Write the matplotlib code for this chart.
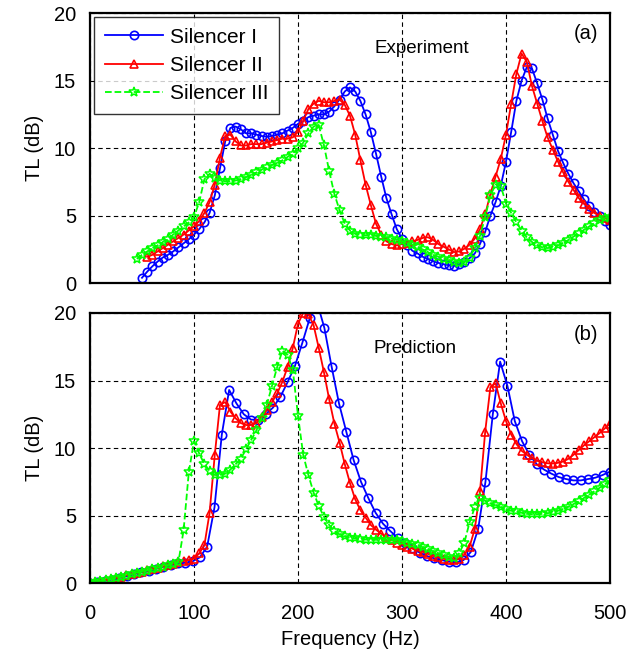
import numpy as np
import matplotlib
matplotlib.use("Agg")
import matplotlib.pyplot as plt

plt.rcParams['font.family'] = ['Liberation Sans', 'DejaVu Sans']

# ---- (a) Experiment, 5 Hz steps ----
f_exp_1 = np.arange(50, 501, 5)
tl_exp_1 = [0.4, 0.85, 1.25, 1.6, 1.9, 2.1, 2.35, 2.65, 2.95, 3.25,
            3.6, 4.0, 4.5, 5.2, 6.5, 8.5, 10.5, 11.5, 11.6, 11.4,
            11.1, 11.1, 11.0, 10.9, 10.85, 10.9, 11.0, 11.1, 11.3, 11.5,
            11.8, 12.0, 12.3, 12.4, 12.5, 12.5, 12.7, 13.1, 13.6, 14.2,
            14.5, 14.2, 13.5, 12.5, 11.2, 9.6, 7.9, 6.3, 5.1, 4.0,
            3.3, 2.8, 2.4, 2.2, 1.95, 1.8, 1.63, 1.5, 1.4, 1.33,
            1.28, 1.4, 1.6, 1.85, 2.2, 2.9, 3.8, 5.0, 6.0, 7.2,
            9.0, 11.2, 13.5, 15.0, 16.0, 15.9, 14.8, 13.6, 12.2, 11.0,
            9.8, 8.9, 8.1, 7.4, 6.8, 6.2, 5.7, 5.3, 5.0, 4.6,
            4.3]

f_exp_2 = np.arange(55, 501, 5)
tl_exp_2 = [1.95, 2.1, 2.35, 2.6, 2.85, 3.1, 3.35, 3.6, 3.9, 4.2,
            4.6, 5.2, 6.0, 7.3, 9.3, 10.9, 11.0, 10.5, 10.2, 10.2,
            10.3, 10.3, 10.3, 10.4, 10.5, 10.6, 10.7, 10.7, 10.8, 11.2,
            12.0, 12.9, 13.3, 13.5, 13.4, 13.4, 13.5, 13.6, 13.2, 12.4,
            11.0, 9.1, 7.3, 5.8, 4.4, 3.6, 3.1, 2.9, 2.8, 2.9,
            3.0, 3.1, 3.2, 3.35, 3.4, 3.2, 2.9, 2.7, 2.5, 2.3,
            2.35, 2.55, 2.85, 3.3, 4.0, 5.1, 6.6, 7.9, 9.2, 11.0,
            13.3, 15.5, 17.0, 16.4, 14.6, 13.3, 12.0, 10.8, 9.9, 9.0,
            8.2, 7.5, 6.9, 6.3, 5.9, 5.5, 5.2, 5.0, 4.8, 4.7]

f_exp_3 = np.arange(45, 501, 5)
tl_exp_3 = [1.8, 2.1, 2.35, 2.6, 2.8, 3.05, 3.3, 3.6, 3.9, 4.2,
            4.5, 4.9, 6.0, 7.7, 8.1, 7.8, 7.6, 7.55, 7.55, 7.6,
            7.7, 7.85, 8.0, 8.2, 8.4, 8.6, 8.75, 8.9, 9.1, 9.35,
            9.6, 10.0, 10.4, 11.1, 11.6, 11.7, 10.2, 8.3, 6.6, 5.4,
            4.4, 3.9, 3.65, 3.6, 3.55, 3.55, 3.5, 3.45, 3.4, 3.3,
            3.2, 3.1, 3.0, 2.85, 2.65, 2.5, 2.3, 2.1, 1.95, 1.8,
            1.7, 1.6, 1.5, 1.55, 1.9, 2.6, 3.5, 4.9, 6.5, 7.3,
            7.2, 5.9, 5.2, 4.5, 3.9, 3.4, 3.05, 2.8, 2.65, 2.6,
            2.65, 2.8, 2.95, 3.2, 3.45, 3.7, 3.95, 4.2, 4.45, 4.7,
            4.85, 4.9]

# ---- (b) Prediction ----
f_pre_1 = np.linspace(0, 500, 72)
tl_pre_1 = [0.0, 0.1, 0.15, 0.25, 0.37, 0.5, 0.65, 0.78, 0.9, 1.05,
            1.2, 1.3, 1.45, 1.5, 1.6, 1.9, 2.7, 5.6, 11.0, 14.3,
            13.3, 12.5, 12.1, 12.1, 12.5, 13.0, 13.8, 14.9, 16.1, 17.8,
            19.6, 20.8, 18.9, 16.0, 13.3, 11.2, 9.1, 7.5, 6.3, 5.2,
            4.4, 3.85, 3.35, 2.95, 2.6, 2.25, 2.0, 1.83, 1.7, 1.58,
            1.53, 1.7, 2.3, 4.0, 7.5, 12.5, 16.4, 14.6, 12.0, 10.5,
            9.5, 8.8, 8.4, 8.1, 7.85, 7.7, 7.6, 7.6, 7.7, 7.8,
            8.0, 8.25]

f_pre = np.arange(0, 501, 5)
tl_pre_2 = [0.05, 0.1, 0.15, 0.22, 0.3, 0.38, 0.47, 0.57, 0.67, 0.77,
            0.85, 0.93, 1.03, 1.13, 1.23, 1.33, 1.43, 1.55, 1.62, 1.7,
            1.8, 2.2, 2.8, 5.2, 9.5, 13.2, 13.4, 12.7, 12.2, 11.85,
            11.7, 11.7, 11.85, 12.3, 12.8, 13.4, 14.05, 14.9, 16.0, 17.4,
            19.2, 20.0, 19.9, 19.1, 17.4, 15.6, 13.6, 11.8, 10.4, 8.8,
            7.4, 6.2, 5.4, 4.85, 4.3, 3.95, 3.65, 3.4, 3.2, 3.0,
            2.85, 2.7, 2.55, 2.4, 2.3, 2.15, 2.0, 1.9, 1.8, 1.72,
            1.7, 1.8, 2.1, 2.7, 4.0, 6.8, 11.2, 14.5, 14.8, 13.3,
            12.0, 11.0, 10.3, 9.8, 9.5, 9.25, 9.05, 8.95, 8.87, 8.85,
            8.9, 9.0, 9.2, 9.5, 9.85, 10.2, 10.5, 10.8, 11.1, 11.45,
            11.8]
tl_pre_3 = [0.05, 0.1, 0.15, 0.2, 0.28, 0.35, 0.45, 0.55, 0.65, 0.75,
            0.83, 0.92, 1.02, 1.12, 1.22, 1.32, 1.42, 1.55, 3.9, 8.2,
            10.5, 9.6, 8.8, 8.3, 8.0, 8.0, 8.1, 8.4, 8.8, 9.2,
            9.9, 10.6, 11.3, 12.2, 13.2, 14.6, 16.0, 17.2, 16.9, 15.8,
            12.4, 9.5, 8.0, 6.7, 5.7, 4.9, 4.3, 3.85, 3.6, 3.45,
            3.35, 3.3, 3.25, 3.22, 3.2, 3.2, 3.2, 3.2, 3.18, 3.15,
            3.1, 3.0, 2.9, 2.8, 2.65, 2.5, 2.35, 2.2, 2.05, 1.9,
            1.85, 2.2, 3.0, 4.5, 5.6, 6.3, 6.1, 5.9, 5.75, 5.6,
            5.45, 5.35, 5.3, 5.2, 5.12, 5.1, 5.1, 5.12, 5.17, 5.25,
            5.35, 5.5, 5.65, 5.85, 6.05, 6.3, 6.55, 6.8, 7.05, 7.3,
            7.6]

labels = ['Silencer I', 'Silencer II', 'Silencer III']
BLUE, RED, GREEN = '#0000ff', '#ff0000', '#00ff00'
FS = 14.5

fig = plt.figure(figsize=(6.28, 6.57), dpi=100)
ax1 = fig.add_axes([0.1433, 0.569, 0.828, 0.411])
ax2 = fig.add_axes([0.1433, 0.1126, 0.828, 0.411])

def draw(ax, s1, s2, s3):
    ax.plot(*s1, '-', color=BLUE, lw=1.3, marker='o', ms=6, mfc='none',
            mew=1.2, label=labels[0])
    ax.plot(*s2, '-', color=RED, lw=1.3, marker='^', ms=6, mfc='none',
            mew=1.2, label=labels[1])
    ax.plot(*s3, '--', color=GREEN, lw=1.3, marker='*', ms=7, mfc='none',
            mew=1.1, label=labels[2])
    ax.set_xlim(0, 500)
    ax.set_ylim(0, 20)
    ax.set_xticks([0, 100, 200, 300, 400, 500])
    ax.set_yticks([0, 5, 10, 15, 20])
    ax.grid(True, color='black', linestyle=(0, (4, 3)), lw=0.8)
    for sp in ax.spines.values():
        sp.set_linewidth(1.6)
    ax.tick_params(length=0, labelsize=FS)
    ax.tick_params(axis='y', pad=10)
    ax.tick_params(axis='x', pad=15)
    ax.set_ylabel('TL (dB)', fontsize=FS, labelpad=7)

draw(ax1, (f_exp_1, tl_exp_1), (f_exp_2, tl_exp_2), (f_exp_3, tl_exp_3))
draw(ax2, (f_pre_1, tl_pre_1), (f_pre, tl_pre_2), (f_pre, tl_pre_3))
ax1.tick_params(axis='x', labelbottom=False)

leg = ax1.legend(loc='upper left', fontsize=15, frameon=True, fancybox=False,
                 borderaxespad=0.2, handlelength=2.8, handletextpad=0.35,
                 labelspacing=0.45, borderpad=0.5)
leg.get_frame().set_edgecolor('black')
leg.get_frame().set_linewidth(1.0)

ax1.text(319, 17.4, 'Experiment', ha='center', va='center', fontsize=13.5)
ax1.text(477, 18.5, '(a)', ha='center', va='center', fontsize=FS)
ax2.text(313, 17.4, 'Prediction', ha='center', va='center', fontsize=13.5)
ax2.text(477, 18.4, '(b)', ha='center', va='center', fontsize=FS)
ax2.set_xlabel('Frequency (Hz)', fontsize=FS, labelpad=5)

fig.savefig('out.png', dpi=100)
